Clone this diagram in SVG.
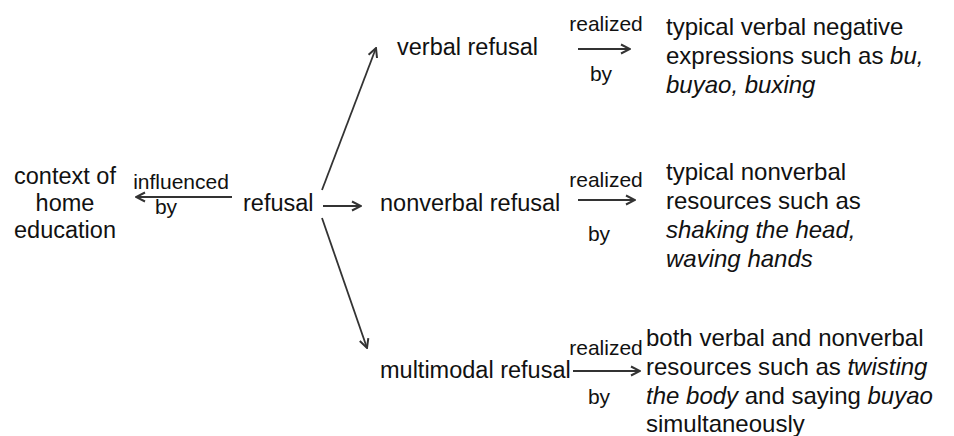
<svg xmlns="http://www.w3.org/2000/svg" width="954" height="436" viewBox="0 0 954 436">
<style>
text{font-family:"Liberation Sans",Arial,sans-serif;fill:#111}
.n{font-size:23.5px}
.d{font-size:24px}
.l{font-size:21px}
.c{stroke:#333;stroke-width:1.8;fill:none}
</style>
<defs>
<marker id="ah" viewBox="0 0 12 12" refX="11" refY="6" markerWidth="12" markerHeight="12" markerUnits="userSpaceOnUse" orient="auto">
<path d="M2,1.5 L11,6 L2,10.5" fill="none" stroke="#333" stroke-width="2"/>
</marker>
</defs>
<rect width="954" height="436" fill="#fff"/>
<g id="connectors">
<line class="c" x1="232" y1="197" x2="136" y2="197" marker-end="url(#ah)"/>
<line class="c" x1="323" y1="206" x2="361" y2="206" marker-end="url(#ah)"/>
<line class="c" x1="322" y1="190" x2="376" y2="48" marker-end="url(#ah)"/>
<line class="c" x1="322" y1="218" x2="367" y2="348" marker-end="url(#ah)"/>
<line class="c" x1="578" y1="49" x2="630" y2="49" marker-end="url(#ah)"/>
<line class="c" x1="578" y1="200" x2="635" y2="200" marker-end="url(#ah)"/>
<line class="c" x1="573" y1="371" x2="640" y2="371" marker-end="url(#ah)"/>
<text class="l" x="181" y="189" text-anchor="middle">influenced</text>
<text class="l" x="166" y="214" text-anchor="middle">by</text>
<text class="l" x="606" y="31" text-anchor="middle">realized</text>
<text class="l" x="601" y="81" text-anchor="middle">by</text>
<text class="l" x="606" y="187" text-anchor="middle">realized</text>
<text class="l" x="599" y="241" text-anchor="middle">by</text>
<text class="l" x="606" y="355" text-anchor="middle">realized</text>
<text class="l" x="599" y="404" text-anchor="middle">by</text>
</g>
<g id="context">
<text class="n" x="65" y="184" text-anchor="middle">context of</text>
<text class="n" x="65" y="211" text-anchor="middle">home</text>
<text class="n" x="65" y="238" text-anchor="middle">education</text>
</g>
<g id="refusal"><text class="n" x="243" y="211">refusal</text></g>
<g id="verbal"><text class="n" x="397" y="55">verbal refusal</text></g>
<g id="nonverbal"><text class="n" x="380" y="211">nonverbal refusal</text></g>
<g id="multimodal"><text class="n" x="380" y="378">multimodal refusal</text></g>
<g id="verbal-desc">
<text class="d" x="666" y="35">typical verbal negative</text>
<text class="d" x="666" y="64">expressions such as <tspan font-style="italic">bu,</tspan></text>
<text class="d" x="666" y="93" font-style="italic">buyao, buxing</text>
</g>
<g id="nonverbal-desc">
<text class="d" x="666" y="180">typical nonverbal</text>
<text class="d" x="666" y="209">resources such as</text>
<text class="d" x="666" y="238" font-style="italic">shaking the head,</text>
<text class="d" x="666" y="267" font-style="italic">waving hands</text>
</g>
<g id="multimodal-desc">
<text class="d" x="646" y="346" font-size="24.3">both verbal and nonverbal</text>
<text class="d" x="646" y="375">resources such as <tspan font-style="italic">twisting</tspan></text>
<text class="d" x="646" y="404"><tspan font-style="italic">the body</tspan> and saying <tspan font-style="italic">buyao</tspan></text>
<text class="d" x="646" y="432">simultaneously</text>
</g>
</svg>
